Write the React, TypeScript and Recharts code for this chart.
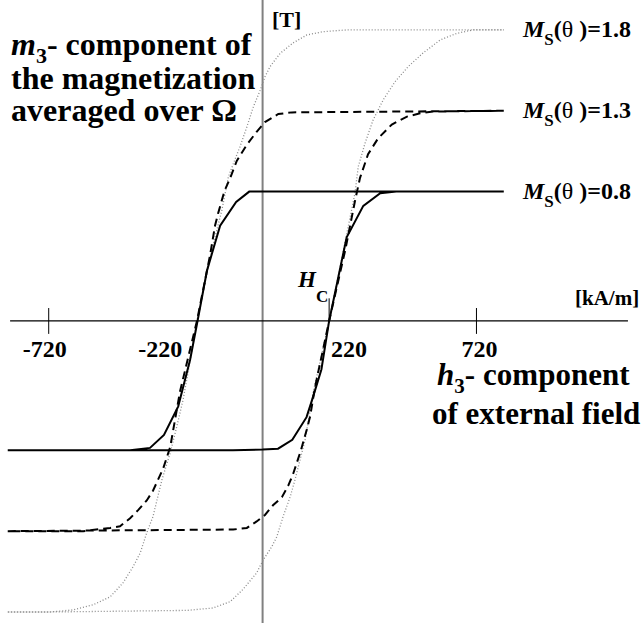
import { ComposedChart, Line, Scatter, XAxis, YAxis, ReferenceLine } from "recharts";

const W = 644;
const H = 623;

// [h (kA/m), m3 (T)]
const rise08 = [
  [-858, -0.8], [-100, -0.8], [0, -0.795], [52, -0.79], [100, -0.735], [148, -0.595],
  [168, -0.48], [198, -0.3], [224, 0], [283, 0.517], [339, 0.712], [396, 0.79], [450, 0.8], [812, 0.8],
];
const fall08 = [
  [812, 0.8], [-45, 0.8], [-89, 0.736], [-143, 0.589], [-187, 0.313], [-219, 0], [-244, -0.24],
  [-284, -0.528], [-332, -0.705], [-379, -0.785], [-446, -0.8], [-858, -0.8],
];

const rise13 = [
  [-858, -1.3], [-99, -1.29], [-53, -1.28], [-20, -1.24], [8, -1.2], [35, -1.14], [65, -1.09],
  [86, -1.02], [103, -0.945], [129, -0.8], [149, -0.67], [160, -0.59], [177, -0.405], [224, 0],
  [278, 0.436], [311, 0.742], [328, 0.885], [355, 1.031], [389, 1.13], [435, 1.215], [486, 1.264],
  [530, 1.284], [574, 1.295], [812, 1.3],
];
const fall13 = [
  [812, 1.3], [99, 1.29], [53, 1.28], [8, 1.23], [-20, 1.17], [-53, 1.09], [-87, 0.99], [-109, 0.885],
  [-129, 0.8], [-149, 0.67], [-160, 0.59], [-177, 0.405], [-221, 0], [-278, -0.436], [-311, -0.78],
  [-335, -0.914], [-369, -1.05], [-390, -1.11], [-419, -1.17], [-446, -1.22], [-480, -1.27],
  [-513, -1.28], [-604, -1.3], [-858, -1.3],
];

const rise18 = [
  [-858, -1.8], [-716, -1.8], [-254, -1.79], [-167, -1.775], [-109, -1.736], [-66, -1.66],
  [-20, -1.558], [2, -1.478], [31, -1.396], [48, -1.334], [69, -1.21], [93, -1.087], [109, -0.983],
  [126, -0.86], [143, -0.736], [153, -0.63], [170, -0.445], [224, 0], [311, 0.79], [322, 0.954],
  [345, 1.1], [372, 1.243], [406, 1.367], [446, 1.48], [490, 1.573], [540, 1.657], [598, 1.738],
  [654, 1.779], [709, 1.8], [812, 1.8],
];
const fall18 = [
  [812, 1.8], [283, 1.8], [204, 1.789], [149, 1.769], [103, 1.72], [59, 1.655], [25, 1.573],
  [8, 1.51], [-8, 1.427], [-31, 1.325], [-53, 1.2], [-76, 1.078], [-98, 0.975], [-115, 0.892],
  [-137, 0.686], [-171, 0.44], [-221, 0], [-251, -0.32], [-268, -0.49], [-289, -0.654],
  [-311, -0.816], [-339, -0.983], [-369, -1.21], [-390, -1.31], [-412, -1.435], [-436, -1.52],
  [-470, -1.62], [-513, -1.706], [-571, -1.756], [-638, -1.787], [-716, -1.8], [-858, -1.8],
];

const tickValues = [-720, -220, 220, 720];
const tickLabels = ["-720", "-220", "220", "720"];
const tickMarks = [-720, 720];
const coercive = 224;

const toRows = (pts: number[][]) => pts.map(([h, m]) => ({ h, m }));
const loop08 = toRows([...rise08, ...fall08]);
const loop13 = toRows([...rise13, ...fall13]);
const loop18 = toRows([...rise18, ...fall18]);
const tickData = tickValues.map((h, i) => ({ h, m: 0, label: tickLabels[i] }));

const font = "'Liberation Serif', 'Times New Roman', serif";

const labelShift: Record<string, { dx: number; anchor: "start" | "middle" | "end" }> = {
  "-720": { dx: -4, anchor: "middle" },
  "-220": { dx: -15, anchor: "end" },
  "220": { dx: 3, anchor: "start" },
  "720": { dx: 3, anchor: "middle" },
};

function TickLabel(props: any) {
  const { cx, cy, payload } = props;
  const s = labelShift[payload.label];
  return (
    <text x={cx + s.dx} y={cy + 36} textAnchor={s.anchor} fontFamily={font} fontWeight="bold" fontSize={24} fill="#000">
      {payload.label}
    </text>
  );
}

function MsLabel({ y, value }: { y: number; value: string }) {
  return (
    <text x={523} y={y} fontFamily={font} fontWeight="bold" fontSize={24} fill="#000">
      <tspan fontStyle="italic">M</tspan>
      <tspan fontSize={17} dy={8}>S</tspan>
      <tspan dy={-8}>(</tspan>
      <tspan fontWeight="normal">θ </tspan>
      <tspan>)={value}</tspan>
    </text>
  );
}

export default function App() {
  return (
    <div style={{ position: "absolute", left: 0, top: 0, width: W, height: H, background: "#fff" }}>
      <ComposedChart width={W} height={H} margin={{ top: 0, right: 0, bottom: 0, left: 0 }}>
        <XAxis type="number" dataKey="h" domain={[-884, 1284]} hide allowDataOverflow />
        <YAxis type="number" dataKey="m" domain={[-1.868, 1.985]} hide allowDataOverflow />
        <ReferenceLine x={0} stroke="#808080" strokeWidth={2} />
        <ReferenceLine segment={[{ x: -850, y: 0 }, { x: 1230, y: 0 }]} stroke="#000" strokeWidth={1.3} />
        {tickMarks.map((t) => (
          <ReferenceLine key={t} segment={[{ x: t, y: -0.08 }, { x: t, y: 0.08 }]} stroke="#000" strokeWidth={1} />
        ))}
        <ReferenceLine segment={[{ x: coercive, y: 0 }, { x: coercive, y: 0.14 }]} stroke="#000" strokeWidth={1} />
        <Line data={loop18} dataKey="m" type="linear" stroke="#8a8a8a" strokeWidth={1.3} strokeDasharray="1 2" dot={false} activeDot={false} isAnimationActive={false} />
        <Line data={loop13} dataKey="m" type="linear" stroke="#000" strokeWidth={2} strokeDasharray="8 5" dot={false} activeDot={false} isAnimationActive={false} />
        <Line data={loop08} dataKey="m" type="linear" stroke="#000" strokeWidth={2} dot={false} activeDot={false} isAnimationActive={false} />
        <Scatter data={tickData} dataKey="m" shape={TickLabel} isAnimationActive={false} />
      </ComposedChart>
      <svg width={W} height={H} style={{ position: "absolute", left: 0, top: 0, pointerEvents: "none" }}>
        <g fontFamily={font} fontWeight="bold" fill="#000">
          <text x={11} y={55} fontSize={32}>
            <tspan fontStyle="italic">m</tspan>
            <tspan fontSize={22} dy={8}>3</tspan>
            <tspan dy={-8}>- component of</tspan>
          </text>
          <text x={11} y={89} fontSize={32}>the magnetization</text>
          <text x={11} y={121} fontSize={32}>averaged over Ω</text>
          <text x={272} y={27} fontSize={22}>[T]</text>
          <text x={575} y={305} fontSize={21}>[kA/m]</text>
          <text x={298} y={287} fontSize={23}>
            <tspan fontStyle="italic">H</tspan>
            <tspan fontSize={17} dy={15}>C</tspan>
          </text>
          <text x={437} y={385} fontSize={31}>
            <tspan fontStyle="italic">h</tspan>
            <tspan fontSize={21} dy={8}>3</tspan>
            <tspan dy={-8}>-</tspan>
            <tspan dx={8}>component</tspan>
          </text>
          <text x={432} y={424} fontSize={31}>of external field</text>
        </g>
        <MsLabel y={37} value="1.8" />
        <MsLabel y={118} value="1.3" />
        <MsLabel y={199} value="0.8" />
      </svg>
    </div>
  );
}
